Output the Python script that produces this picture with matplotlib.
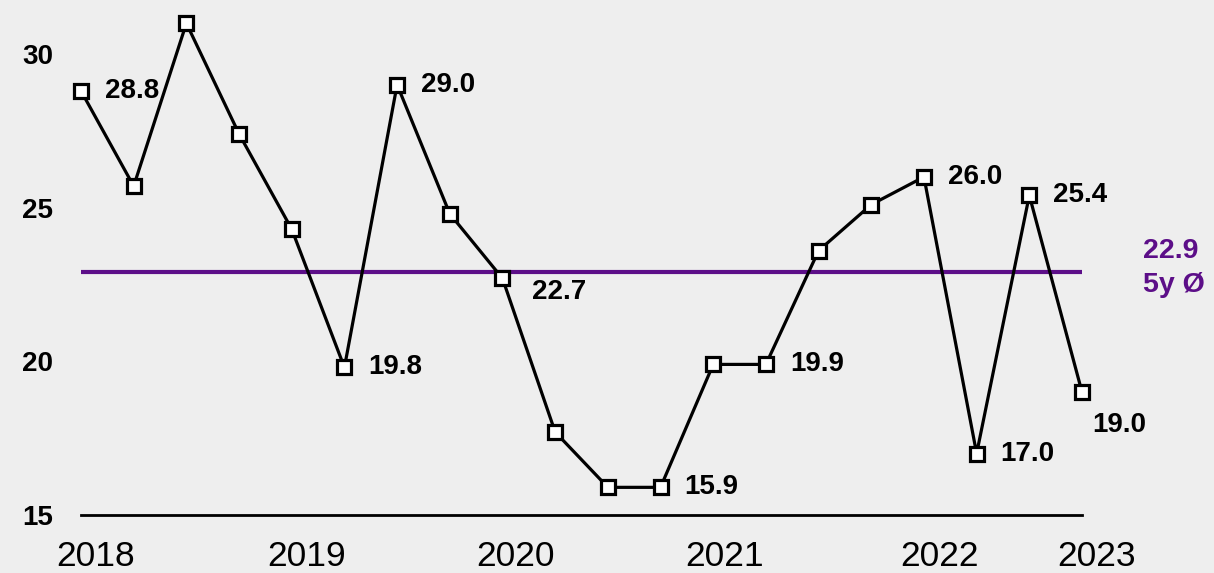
import matplotlib.pyplot as plt
from matplotlib.transforms import blended_transform_factory

plt.rcParams['font.family'] = ['Liberation Sans', 'DejaVu Sans']

values = [28.8, 25.7, 31.0, 27.4, 24.3, 19.8, 29.0, 24.8, 22.7, 17.7,
          15.9, 15.9, 19.9, 19.9, 23.6, 25.1, 26.0, 17.0, 25.4, 19.0]
avg = 22.9
avg_label = "22.9\n5y Ø"
labeled = [0, 2, 5, 6, 8, 11, 13, 16, 17, 18, 19]
years = ["2018", "2019", "2020", "2021", "2022", "2023"]
year_pos = [0.28, 4.28, 8.24, 12.22, 16.3, 19.28]
y_ticks = [15, 20, 25, 30]

bg = "#eeeeee"
purple = "#5c0e88"

fig = plt.figure(figsize=(12.14, 5.73), dpi=100, facecolor=bg)
ax = fig.add_axes([81 / 1214, 58 / 573, 1001 / 1214, 461 / 573])
ax.set_facecolor(bg)

x = list(range(len(values)))
ax.axhline(avg, xmin=0, xmax=1, color=purple, lw=3, solid_capstyle="round", zorder=2)
ax.plot(x, values, color="black", lw=2.3, marker="s", ms=10, mfc="white",
        mec="black", mew=2.3, clip_on=False, zorder=3)

for i in labeled:
    dx, dy = 24, 0
    if i == 8:
        dx, dy = 30, -14
    if i == 19:
        dx, dy = 10, -33
    ax.annotate(f"{values[i]:.1f}", (i, values[i]), xytext=(dx, dy),
                textcoords="offset pixels", ha="left", va="center",
                fontsize=20, fontweight="bold", color="black")

fig.text(1143 / 1214, 1 - 268 / 573, avg_label, ha="left", va="center",
         fontsize=20.5, fontweight="bold", color=purple, linespacing=1.42)

for s in ["top", "right", "left"]:
    ax.spines[s].set_visible(False)
ax.spines["bottom"].set_linewidth(2)
ax.spines["bottom"].set_color("black")

ax.set_yticks(y_ticks)
ax.set_yticklabels([str(t) for t in y_ticks], fontsize=20, fontweight="bold")
ax.tick_params(axis="y", length=0, pad=20)
ax.set_xticks([])

trans = blended_transform_factory(ax.transData, ax.transAxes)
for p, yr in zip(year_pos, years):
    ax.text(p, -51 / 461, yr, transform=trans, ha="center", va="baseline",
            fontsize=25.5, clip_on=False)

ax.set_xlim(0, 19)
ax.set_ylim(15, 30)

fig.savefig("out.png", dpi=100, facecolor=bg)
